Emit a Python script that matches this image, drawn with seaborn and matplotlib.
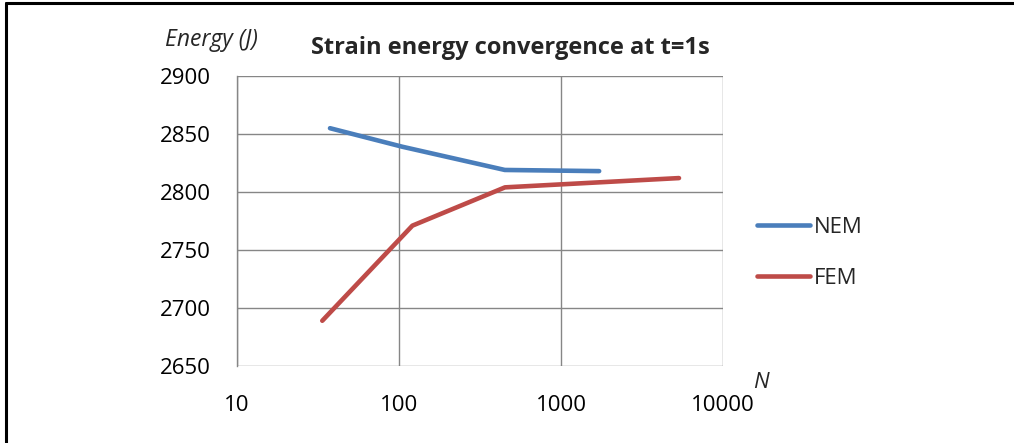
import matplotlib
matplotlib.use("Agg")
import matplotlib.pyplot as plt
import matplotlib.ticker as mticker
from matplotlib.lines import Line2D
import seaborn as sns
import pandas as pd

# ---- data ----
nem_n = [37.5, 105, 450, 1720]
nem_e = [2855, 2839, 2819, 2818]
fem_n = [33.6, 121, 451, 5350]
fem_e = [2689, 2771, 2804, 2812]
series_names = ["NEM", "FEM"]
x_ticks = [10, 100, 1000, 10000]
x_tick_labels = ["10", "100", "1000", "10000"]
y_ticks = [2650, 2700, 2750, 2800, 2850, 2900]
title = "Strain energy convergence at t=1s"
y_label = "Energy (J)"
x_label = "N"

df = pd.concat([
    pd.DataFrame({"N": nem_n, "E": nem_e, "s": series_names[0]}),
    pd.DataFrame({"N": fem_n, "E": fem_e, "s": series_names[1]}),
], ignore_index=True)

sns.set_style("white")
plt.rcParams["font.family"] = ["Open Sans", "DejaVu Sans"]

colors = {"NEM": "#4A7EBB", "FEM": "#BE4B48"}
grid_c = "#868686"

fig = plt.figure(figsize=(10.14, 4.43), dpi=100)
ax = fig.add_axes([237 / 1014, 1 - 366 / 443, (723 - 237) / 1014, (366 - 76) / 443])

sns.lineplot(data=df, x="N", y="E", hue="s", palette=colors, linewidth=3.3,
             sort=False, legend=False, ax=ax, solid_capstyle="round")

ax.set_xscale("log")
ax.set_xlim(10, 10000)
ax.set_ylim(2650, 2900)
ax.set_xticks(x_ticks)
ax.xaxis.set_minor_locator(mticker.NullLocator())
ax.set_xticklabels(x_tick_labels)
ax.set_yticks(y_ticks)
ax.set_yticklabels([str(v) for v in y_ticks])
ax.set_xlabel("")
ax.set_ylabel("")

ax.grid(True, color=grid_c, linewidth=1.0)
for sp in ax.spines.values():
    sp.set_visible(False)
ax.spines["left"].set_visible(True)
ax.spines["left"].set_color(grid_c)
ax.spines["left"].set_linewidth(1.0)
ax.tick_params(axis="both", direction="out", length=6, width=1.0, color=grid_c,
               labelsize=16, labelcolor="#000000")
ax.tick_params(axis="y", pad=13)
ax.tick_params(axis="x", pad=15)
ax.set_axisbelow(True)

fig.text(510 / 1014, 1 - 48 / 443, title, ha="center", va="center",
         fontsize=17, fontweight="bold")
fig.text(211 / 1014, 1 - 40 / 443, y_label, ha="center", va="center",
         fontsize=16.5, style="italic")
fig.text(761 / 1014, 1 - 383 / 443, x_label, ha="center", va="center",
         fontsize=16, style="italic")

handles = [Line2D([], [], color=colors[n], linewidth=3.3, solid_capstyle="round")
           for n in series_names]
fig.legend(handles, series_names, loc="center left",
           bbox_to_anchor=(737 / 1014, 1 - 253 / 443), frameon=False,
           fontsize=16, handlelength=2.4, handletextpad=0.15, labelspacing=1.35)

# frame border (top and left)
fig.add_artist(Line2D([6 / 1014, 6 / 1014], [0, 1 - 3 / 443], transform=fig.transFigure,
                      color="black", linewidth=2.2))
fig.add_artist(Line2D([6 / 1014, 1], [1 - 3 / 443, 1 - 3 / 443], transform=fig.transFigure,
                      color="black", linewidth=2.2))

fig.savefig("out.png", dpi=100, facecolor="white")
